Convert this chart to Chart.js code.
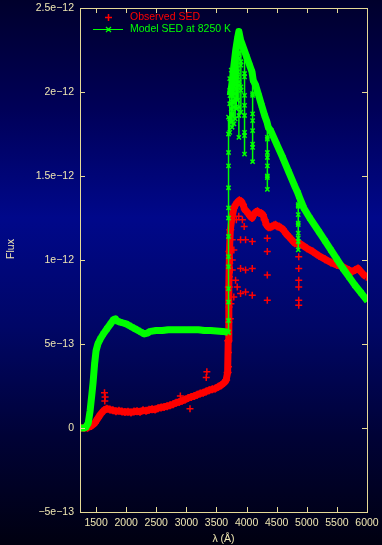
<!DOCTYPE html>
<html>
<head>
<meta charset="utf-8">
<script src="https://cdn.jsdelivr.net/npm/chart.js@4.4.1/dist/chart.umd.min.js"></script>
<style>
  html, body { margin: 0; padding: 0; background: #000018; }
  #wrap { width: 382px; height: 545px; }
</style>
</head>
<body>
<div id="wrap"><canvas id="sed" width="382" height="545"></canvas></div>
<script>
// wavelengths in Angstrom, fluxes in units of 1e-13
var obsWave = [1240, 1300, 1360, 1420, 1480, 1530, 1580, 1630, 1680, 1730, 1780, 1830, 1880, 1930, 1980,
    2030, 2080, 2130, 2180, 2230, 2280, 2330, 2380, 2430, 2480, 2530, 2580, 2630, 2680, 2730, 2780,
    2830, 2880, 2930, 2980, 3030, 3080, 3130, 3180, 3230, 3280, 3330, 3380, 3430, 3480, 3530, 3580,
    3630, 3660, 3685, 3695, 3705, 3715, 3730, 3760, 3790, 3820, 3850, 3880, 3910, 3940, 3970, 4000,
    4030, 4060, 4090, 4120, 4150, 4180, 4210, 4240, 4270, 4300, 4330, 4360, 4390, 4420, 4450, 4480,
    4510, 4540, 4570, 4600, 4630, 4660, 4700, 4750, 4800, 4850, 4900, 5000, 5100, 5200, 5300, 5400,
    5500, 5600, 5700, 5750, 5800, 5850, 5900, 5950, 5990];
var obsFlux = [0.0, 0.0, 0.02, 0.12, 0.3, 0.58, 0.85, 1.05, 1.15, 1.1, 1.05, 1.0, 1.02, 0.98, 0.95,
    0.97, 0.93, 0.98, 1.0, 0.97, 1.05, 1.02, 1.08, 1.12, 1.1, 1.18, 1.22, 1.25, 1.3, 1.35, 1.42,
    1.5, 1.55, 1.62, 1.7, 1.78, 1.85, 1.9, 1.98, 2.05, 2.1, 2.18, 2.25, 2.3, 2.35, 2.45, 2.55,
    2.7, 2.85, 3.3, 5.2, 8.4, 10.5, 11.8, 12.6, 13.1, 13.3, 13.45, 13.55, 13.5, 13.3, 13.0, 12.9,
    12.75, 12.6, 12.5, 12.7, 12.85, 12.9, 12.8, 12.8, 12.7, 12.4, 12.1, 11.95, 11.95, 12.0, 12.05, 12.1,
    12.0, 12.0, 11.9, 11.85, 11.7, 11.55, 11.4, 11.2, 11.0, 10.95, 10.95, 10.7, 10.5, 10.25, 10.05, 9.85,
    9.7, 9.6, 9.4, 9.3, 9.4, 9.5, 9.3, 9.1, 9.0];
var obsOutWave = [1640, 1645, 1650, 2900, 3060, 3330, 3340, 3700, 3700, 3705, 3710, 3715, 3720, 3730, 3740,
    3761, 3761, 3761, 3788, 3788, 3817, 3845, 3900, 3900, 3900, 3983, 3983, 3983, 4094, 4094, 4094,
    4344, 4344, 4344, 4344, 4866, 4866, 4866, 4866, 4866, 4866, 3830, 3870, 3930, 3960];
var obsOutFlux = [2.1, 1.6, 1.85, 1.9, 1.15, 3.0, 3.35, 3.65, 4.5, 6.3, 7.2, 9.0, 9.8, 6.5, 7.4,
    11.2, 10.0, 9.4, 10.6, 7.8, 8.8, 8.4, 11.2, 9.5, 8.0, 11.2, 9.4, 8.1, 11.1, 9.5, 7.9,
    11.3, 10.5, 9.1, 7.6, 10.2, 9.5, 8.8, 8.4, 7.6, 7.3, 12.4, 12.6, 12.4, 12.0];

var modelWave = [1235, 1300, 1330, 1370, 1400, 1430, 1450, 1475, 1500, 1530, 1570, 1620, 1680, 1740,
    1790, 1820, 1860, 1900, 1950, 2000, 2050, 2100, 2150, 2200, 2250, 2300, 2350, 2400, 2500, 2600,
    2700, 2800, 2900, 3000, 3100, 3200, 3300, 3400, 3500, 3600, 3690, 3695,
    3730, 3760, 3790, 3820, 3850, 3872, 3900, 3930, 3960, 4000, 4050, 4090, 4110, 4150, 4200,
    4250, 4300, 4340, 4360, 4400, 4500, 4600, 4700, 4800, 4850, 4870, 4950, 5050, 5200, 5300, 5400,
    5500, 5600, 5700, 5800, 5900, 6000];
var modelFlux = [0.0, 0.0, 0.05, 0.3, 1.0, 2.0, 2.7, 3.8, 4.6, 5.0, 5.3, 5.6, 5.9, 6.2,
    6.45, 6.5, 6.35, 6.3, 6.25, 6.2, 6.1, 6.0, 5.9, 5.8, 5.7, 5.6, 5.65, 5.75, 5.8, 5.8,
    5.85, 5.85, 5.85, 5.85, 5.85, 5.85, 5.8, 5.8, 5.78, 5.75, 5.7, null,
    19.8, 20.6, 21.6, 22.5, 23.2, 23.6, 23.1, 22.8, 22.5, 22.1, 21.6, 21.2, 20.7, 20.4, 19.8,
    19.2, 18.6, 18.2, 17.9, 17.7, 16.9, 16.1, 15.25, 14.4, 14.0, 13.8, 13.1, 12.5, 11.7, 11.15, 10.6,
    10.05, 9.5, 9.0, 8.5, 8.05, 7.6];

// Balmer jump and line cores of the model
var lineWave = [3700, 3720, 3745, 3760, 3790, 3810, 3830, 3850, 3872, 3905, 3966, 4100, 4345, 4858];
var lineFlux = [
    [5.7, 6.4, 7.5, 8.3, 9.6, 10.2, 11.4, 12.5, 13.1, 14.3, 15.6, 16.4, 17.5, 18.5],
    [17.6, 18.4, 19.3, 20.1, 20.8],
    [18.2, 19.0, 19.9, 20.7, 21.3],
    [20.2, 19.4, 18.6, 17.9, 18.7, 19.8],
    [21.5, 20.3, 19.1, 18.1, 19.4, 20.8],
    [22.1, 21.0, 19.6, 18.4, 19.9, 21.4],
    [22.6, 21.4, 20.2, 19.0, 20.5, 21.9],
    [23.3, 22.1, 20.9, 19.5, 21.2, 22.5],
    [23.5, 22.0, 20.6, 19.1, 17.3, 18.6, 20.4, 22.3],
    [23.0, 21.6, 20.1, 18.8, 20.3, 21.8],
    [22.4, 21.1, 19.8, 18.6, 17.4, 16.3, 17.6, 19.2, 20.9],
    [21.0, 19.9, 18.7, 17.7, 16.7, 15.85, 16.9, 18.3, 19.8],
    [18.1, 17.2, 16.4, 15.6, 14.9, 14.2, 15.0, 16.1, 17.3],
    [14.0, 13.3, 12.7, 12.1, 11.6, 11.1, 10.6, 11.3, 12.2, 13.2]
];

var xTicks = [1500, 2000, 2500, 3000, 3500, 4000, 4500, 5000, 5500, 6000];
var yTicks = [-5e-13, 0, 5e-13, 1e-12, 1.5e-12, 2e-12, 2.5e-12];
var yTickLabels = ['\u22125e\u221213', '0', '5e\u221213', '1e\u221212', '1.5e\u221212', '2e\u221212', '2.5e\u221212'];

var frameColor = '#e6da96';
var textColor = '#eee6b2';
var fontFamily = '"Liberation Sans", Arial, sans-serif';
var red = '#ff0000';
var green = '#00ff00';

function toPoints(wave, flux) {
    return wave.map(function(w, i) {
        return { x: w, y: flux[i] === null ? null : flux[i] * 1e-13 };
    });
}

var datasets = [{
    label: 'Observed SED',
    data: toPoints(obsWave, obsFlux),
    showLine: true,
    borderColor: red,
    borderWidth: 7,
    borderJoinStyle: 'round',
    pointStyle: 'cross',
    pointRadius: 4,
    pointBorderWidth: 1.5,
    pointBorderColor: red,
    order: 1
}, {
    label: 'Observed SED',
    data: toPoints(obsOutWave, obsOutFlux),
    showLine: false,
    pointStyle: 'cross',
    pointRadius: 3.5,
    pointBorderWidth: 1.5,
    pointBorderColor: red,
    order: 1
}, {
    label: 'Model SED at 8250 K',
    data: toPoints(modelWave, modelFlux),
    showLine: true,
    spanGaps: false,
    borderColor: green,
    borderWidth: 7,
    borderJoinStyle: 'round',
    pointStyle: 'crossRot',
    pointRadius: 3.5,
    pointBorderWidth: 1.5,
    pointBorderColor: green,
    order: 0
}];

lineWave.forEach(function(w, i) {
    datasets.push({
        label: 'Model SED at 8250 K',
        data: lineFlux[i].map(function(f) { return { x: w, y: f * 1e-13 }; }),
        showLine: true,
        borderColor: green,
        borderWidth: 1.5,
        pointStyle: 'crossRot',
        pointRadius: 3,
        pointBorderWidth: 1.5,
        pointBorderColor: green,
        order: 0
    });
});

var backgroundPlugin = {
    id: 'background',
    beforeDraw: function(chart) {
        var ctx = chart.ctx;
        var g = ctx.createLinearGradient(0, 0, 0, chart.height);
        g.addColorStop(0, '#00002c');
        g.addColorStop(0.2, '#000058');
        g.addColorStop(0.4, '#00088a');
        g.addColorStop(0.6, '#000666');
        g.addColorStop(0.8, '#000236');
        g.addColorStop(1, '#000010');
        ctx.save();
        ctx.fillStyle = g;
        ctx.fillRect(0, 0, chart.width, chart.height);
        ctx.restore();
    }
};

var framePlugin = {
    id: 'frame',
    afterDraw: function(chart) {
        var ctx = chart.ctx;
        var a = chart.chartArea;
        var xs = chart.scales.x, ys = chart.scales.y;
        var tl = 5;
        ctx.save();
        ctx.strokeStyle = frameColor;
        ctx.lineWidth = 1;
        ctx.strokeRect(Math.round(a.left) + 0.5, Math.round(a.top) + 0.5,
            Math.round(a.right - a.left), Math.round(a.bottom - a.top));
        ctx.beginPath();
        xTicks.forEach(function(v) {
            var px = Math.round(xs.getPixelForValue(v)) + 0.5;
            ctx.moveTo(px, a.bottom); ctx.lineTo(px, a.bottom - tl);
            ctx.moveTo(px, a.top); ctx.lineTo(px, a.top + tl);
        });
        yTicks.forEach(function(v) {
            var py = Math.round(ys.getPixelForValue(v)) + 0.5;
            ctx.moveTo(a.left, py); ctx.lineTo(a.left + tl, py);
            ctx.moveTo(a.right, py); ctx.lineTo(a.right - tl, py);
        });
        ctx.stroke();

        // axis titles
        ctx.fillStyle = textColor;
        ctx.font = '10.5px ' + fontFamily;
        ctx.textAlign = 'center';
        ctx.textBaseline = 'middle';
        ctx.fillText('\u03bb (\u00c5)', (a.left + a.right) / 2, 539);
        ctx.save();
        ctx.translate(11, 249);
        ctx.rotate(-Math.PI / 2);
        ctx.fillText('Flux', 0, 0);
        ctx.restore();

        // key
        ctx.textAlign = 'left';
        ctx.lineWidth = 1.5;
        ctx.strokeStyle = red;
        ctx.beginPath();
        ctx.moveTo(105, 17.5); ctx.lineTo(112, 17.5);
        ctx.moveTo(108.5, 14); ctx.lineTo(108.5, 21);
        ctx.stroke();
        ctx.fillStyle = red;
        ctx.fillText('Observed SED', 130, 17.5);

        ctx.strokeStyle = green;
        ctx.lineWidth = 1.2;
        ctx.beginPath();
        ctx.moveTo(93, 29.5); ctx.lineTo(123, 29.5);
        ctx.moveTo(106, 27); ctx.lineTo(111, 32);
        ctx.moveTo(111, 27); ctx.lineTo(106, 32);
        ctx.stroke();
        ctx.fillStyle = green;
        ctx.fillText('Model SED at 8250 K', 130, 29.5);
        ctx.restore();
    }
};

var tickFont = { family: fontFamily, size: 10.5 };

new Chart(document.getElementById('sed').getContext('2d'), {
    type: 'scatter',
    data: { datasets: datasets },
    options: {
        responsive: false,
        animation: false,
        devicePixelRatio: 1,
        layout: { padding: { top: 8, right: 15, left: 0, bottom: 0 } },
        plugins: {
            legend: { display: false },
            tooltip: { enabled: false }
        },
        scales: {
            x: {
                type: 'linear',
                min: 1233,
                max: 6000,
                grid: { display: false, drawTicks: false },
                border: { display: false },
                afterBuildTicks: function(scale) {
                    scale.ticks = xTicks.map(function(v) { return { value: v }; });
                },
                afterFit: function(scale) {
                    scale.height = 33;
                    scale.paddingLeft = 0;
                    scale.paddingRight = 0;
                },
                ticks: {
                    color: textColor,
                    font: tickFont,
                    padding: 5,
                    autoSkip: false,
                    maxRotation: 0,
                    callback: function(v) { return String(v); }
                }
            },
            y: {
                type: 'linear',
                min: -5e-13,
                max: 2.5e-12,
                grid: { display: false, drawTicks: false },
                border: { display: false },
                afterBuildTicks: function(scale) {
                    scale.ticks = yTicks.map(function(v) { return { value: v }; });
                },
                afterFit: function(scale) {
                    scale.width = 80;
                    scale.paddingTop = 0;
                    scale.paddingBottom = 0;
                },
                ticks: {
                    color: textColor,
                    font: tickFont,
                    padding: 6,
                    callback: function(v, i) { return yTickLabels[i]; }
                }
            }
        }
    },
    plugins: [backgroundPlugin, framePlugin]
});
</script>
</body>
</html>
